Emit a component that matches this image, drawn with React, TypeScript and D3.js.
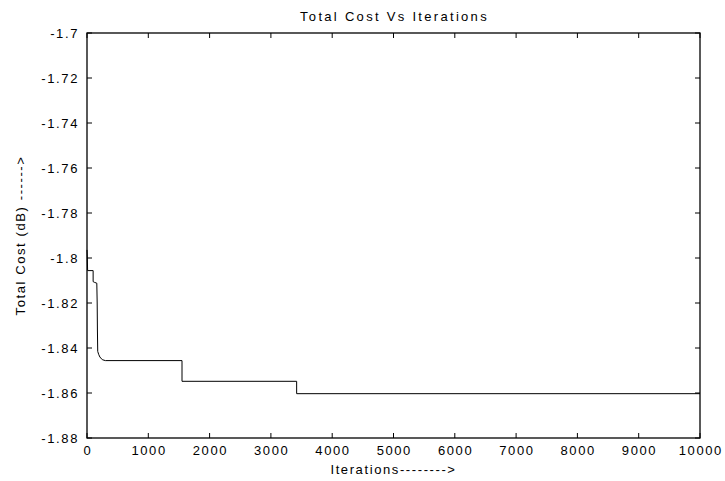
import React from "react";
import * as d3 from "d3";

const iterations = [0, 5, 10, 100, 100, 120, 160, 166, 170, 175, 190, 210, 250, 300, 1550, 1550, 3420, 3420, 10000];
const totalCost = [-1.7964, -1.800, -1.8056, -1.8056, -1.8105, -1.8108, -1.8112, -1.820, -1.832, -1.8415, -1.8428, -1.8440, -1.8452, -1.8456, -1.8456, -1.8548, -1.8548, -1.8603, -1.8603];
const xTicks = [0, 1000, 2000, 3000, 4000, 5000, 6000, 7000, 8000, 9000, 10000];
const yTicks = [-1.7, -1.72, -1.74, -1.76, -1.78, -1.8, -1.82, -1.84, -1.86, -1.88];
const title = "Total Cost Vs Iterations";
const xLabel = "Iterations-------->";
const yLabel = "Total Cost (dB) ------>";

const W = 725, H = 481;
const L = 87, R = 700, T = 33, B = 438;
const FONT = "Arial, 'Liberation Sans', sans-serif";

export default function App() {
  const x = d3.scaleLinear().domain([0, 10000]).range([L, R]);
  const y = d3.scaleLinear().domain([-1.88, -1.7]).range([B, T]);
  const pts = iterations.map((v, i) => [v, totalCost[i]] as [number, number]);
  const line = d3.line<[number, number]>().x(d => x(d[0])).y(d => y(d[1]));
  const tl = 5;
  const fmtY = (v: number) => String(+v.toFixed(2));
  return (
    <svg width={W} height={H} style={{ position: "absolute", left: 0, top: 0, background: "#fff" }}>
      <rect x={0} y={0} width={W} height={H} fill="#fff" />
      <text x={(L + R) / 2 + 1} y={21} textAnchor="middle" fontFamily={FONT} fontSize={13} letterSpacing={2.3} fill="#000">{title}</text>
      {xTicks.map(v => (
        <g key={"x" + v}>
          <line x1={x(v)} x2={x(v)} y1={B} y2={B - tl} stroke="#000" strokeWidth={1} />
          <line x1={x(v)} x2={x(v)} y1={T} y2={T + tl} stroke="#000" strokeWidth={1} />
          <text x={x(v) + 0.8} y={455} textAnchor="middle" fontFamily={FONT} fontSize={13} letterSpacing={1.6} fill="#000">{String(v)}</text>
        </g>
      ))}
      {yTicks.map(v => (
        <g key={"y" + v}>
          <line x1={L} x2={L + tl} y1={y(v)} y2={y(v)} stroke="#000" strokeWidth={1} />
          <line x1={R} x2={R - tl} y1={y(v)} y2={y(v)} stroke="#000" strokeWidth={1} />
          <text x={79} y={y(v) + 4.5} textAnchor="end" fontFamily={FONT} fontSize={13} letterSpacing={1.6} fill="#000">{fmtY(v)}</text>
        </g>
      ))}
      <rect x={L} y={T} width={R - L} height={B - T} fill="none" stroke="#000" strokeWidth={1.3} />
      <path d={line(pts) || ""} fill="none" stroke="#000" strokeWidth={1} />
      <text x={(L + R) / 2} y={474} textAnchor="middle" fontFamily={FONT} fontSize={13} letterSpacing={1.6} fill="#000">{xLabel}</text>
      <text transform={`translate(25,${(T + B) / 2}) rotate(-90)`} textAnchor="middle" fontFamily={FONT} fontSize={13} letterSpacing={1.6} fill="#000">{yLabel}</text>
    </svg>
  );
}
